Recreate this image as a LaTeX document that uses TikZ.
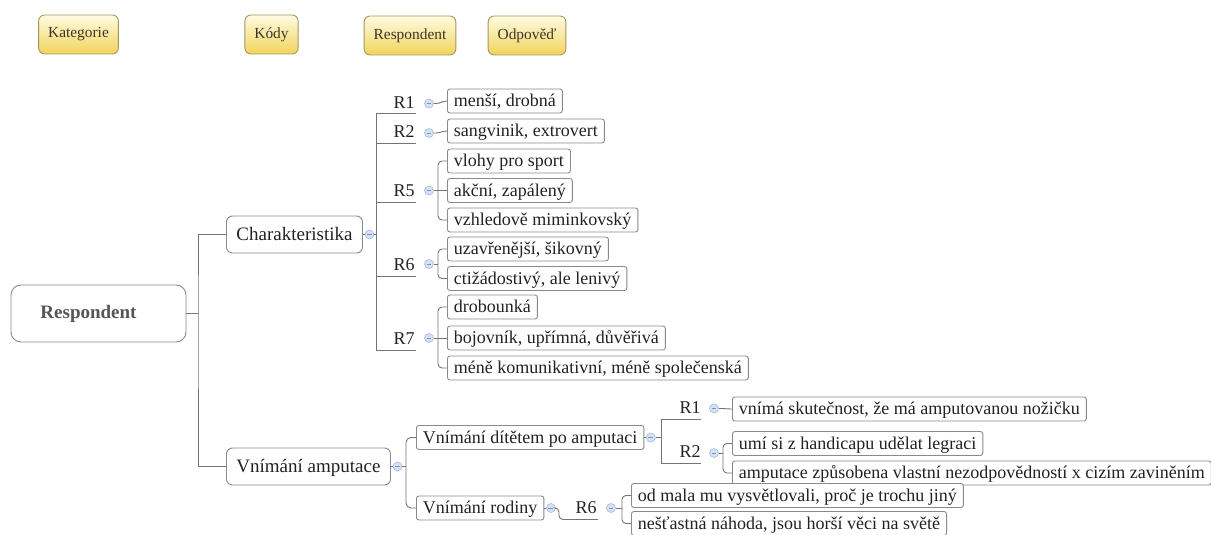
\documentclass[tikz,border=0pt]{standalone}
\usepackage{fontspec}
\setmainfont{Liberation Serif}
\usetikzlibrary{calc}

\definecolor{ink}{HTML}{222222}
\definecolor{edge}{HTML}{8A8A8A}
\definecolor{wire}{HTML}{747474}
\definecolor{legtop}{HTML}{FFFBE2}
\definecolor{legbot}{HTML}{F1D45C}
\definecolor{legline}{HTML}{A4965E}
\definecolor{legink}{HTML}{3A3526}
\definecolor{togfill}{HTML}{D6E2F4}
\definecolor{togline}{HTML}{A3B9DF}
\definecolor{togmark}{HTML}{7892C4}
\definecolor{rootink}{HTML}{555555}

\tikzset{
  link/.style={draw=wire, line width=0.9pt},
  leaf/.style={draw=edge, line width=0.9pt, rounded corners=2.5pt, fill=white,
    anchor=west, text=ink, font=\fontsize{18}{20}\selectfont,
    inner xsep=6.5pt, inner ysep=2.5pt, text height=15pt, text depth=4pt},
  topic/.style={draw=edge, line width=0.9pt, rounded corners=6pt, fill=white,
    anchor=west, text=ink, font=\fontsize{19}{21}\selectfont,
    inner xsep=10pt, inner ysep=7.75pt, text height=17pt, text depth=4.5pt},
  rootbox/.style={draw=edge, line width=0.9pt, rounded corners=10pt, fill=white,
    minimum width=175pt, minimum height=57pt, inner sep=0pt},
  roottext/.style={text=rootink, font=\fontsize{19}{21}\selectfont\bfseries, inner sep=0pt},
  rlabel/.style={text=ink, font=\fontsize{18}{20}\selectfont, inner sep=0pt},
  tog/.style={circle, minimum size=9pt, inner sep=0pt, fill=togfill, draw=togline,
    line width=0.6pt,
    path picture={\draw[togmark, line width=0.8pt]
      ([xshift=-2.4pt]path picture bounding box.center) --
      ([xshift=2.4pt]path picture bounding box.center);}},
  legend/.style={draw=legline, line width=0.9pt, rounded corners=6pt,
    top color=legtop, bottom color=legbot, text=legink,
    font=\fontsize{15.4}{17}\selectfont, minimum height=39pt, inner xsep=9.5pt},
}

\begin{document}
\begin{tikzpicture}[x=1pt, y=-1pt]
\useasboundingbox (0,0) rectangle (1211,535);

% legend row
\node[legend] (lgKat)  at (78.5,34.5)  {Kategorie};
\node[legend] (lgKod)  at (271.5,34.5) {Kódy};
\node[legend] (lgResp) at (410,35.5)   {Respondent};
\node[legend] (lgOdp)  at (527,35.5)   {Odpověď};

% central topic
\node[rootbox]  (root)    at (98.5,313.5) {};
\node[roottext] (roottxt) at (88.5,313.5) {Respondent};

% main topics
\node[topic] (char) at (226,234.5) {Charakteristika};
\node[topic] (vamp) at (226,466.5) {Vnímání amputace};
\coordinate (j0) at (198,313.5);
\draw[link] (root.east) -- (j0);
\draw[link] (char.west) -| (j0) |- (vamp.west);

% ---- Charakteristika branch ----
\node[tog] (tgChar) at ($(char.east)+(6.5,0)$) {};
\draw[link] (char.east) -- (tgChar.west);
\coordinate (vC) at (376,234.5);
\draw[link] (tgChar.east) -- (vC);

\coordinate (u1) at (416,113);
\coordinate (u2) at (416,143);
\coordinate (u5) at (416,202.5);
\coordinate (u6) at (416,276);
\coordinate (u7) at (416,350);
\draw[link] (u1) -- (u1 -| vC) |- (u7);
\draw[link] (u2 -| vC) -- (u2);
\draw[link] (u5 -| vC) -- (u5);
\draw[link] (u6 -| vC) -- (u6);

\node[rlabel] (lbA1) at (404,102.5) {R1};
\node[rlabel] (lbA2) at (404,131.5) {R2};
\node[rlabel] (lbA5) at (404,191)   {R5};
\node[rlabel] (lbA6) at (404,264.5) {R6};
\node[rlabel] (lbA7) at (404,338.5) {R7};

\node[tog] (tgA1) at (429,103.5) {};
\node[tog] (tgA2) at (429,133)   {};
\node[tog] (tgA5) at (429,190.5) {};
\node[tog] (tgA6) at (429,264)   {};
\node[tog] (tgA7) at (429,338)   {};

\node[leaf] (lfA1)  at (447,101)   {menší, drobná};
\node[leaf] (lfA2)  at (447,131)   {sangvinik, extrovert};
\node[leaf] (lfA5a) at (447,161)   {vlohy pro sport};
\node[leaf] (lfA5b) at (447,190.5) {akční, zapálený};
\node[leaf] (lfA5c) at (447,220)   {vzhledově miminkovský};
\node[leaf] (lfA6a) at (447,249)   {uzavřenější, šikovný};
\node[leaf] (lfA6b) at (447,278.5) {ctižádostivý, ale lenivý};
\node[leaf] (lfA7a) at (447,307)   {drobounká};
\node[leaf] (lfA7b) at (447,338)   {bojovník, upřímná, důvěřivá};
\node[leaf] (lfA7c) at (447,368)   {méně komunikativní, méně společenská};

\draw[link] (tgA1.east) -- ++(2,0) to[out=0, in=180] (lfA1.west);
\draw[link] (tgA2.east) -- ++(2,0) to[out=0, in=180] (lfA2.west);
\draw[link, rounded corners=4pt] (lfA5a.west) -| (438,190.5) |- (lfA5c.west);
\draw[link] (tgA5.east) -- (lfA5b.west);
\draw[link, rounded corners=4pt] (lfA6a.west) -| (438,264) |- (lfA6b.west);
\draw[link] (tgA6.east) -- (438,264);
\draw[link, rounded corners=4pt] (lfA7a.west) -| (438,338) |- (lfA7c.west);
\draw[link] (tgA7.east) -- (lfA7b.west);

% ---- Vnímání amputace branch ----
\node[tog] (tgVamp) at ($(vamp.east)+(6.5,0)$) {};
\draw[link] (vamp.east) -- (tgVamp.west);
\coordinate (vV) at (406,466.5);
\draw[link] (tgVamp.east) -- (vV);

\node[leaf] (vdit) at (416,437.5) {Vnímání dítětem po amputaci};
\node[leaf] (vrod) at (416,508)   {Vnímání rodiny};
\draw[link, rounded corners=5pt] (vdit.west) -| (vV) |- (vrod.west);

% child's own perception
\node[tog] (tgVdit) at ($(vdit.east)+(6.5,0)$) {};
\draw[link] (vdit.east) -- (tgVdit.west);
\coordinate (vD) at (661,437.5);
\draw[link] (tgVdit.east) -- (vD);
\coordinate (w1) at (701,419.5);
\coordinate (w2) at (701,463.5);
\draw[link] (w1) -- (w1 -| vD) |- (w2);

\node[rlabel] (lbB1) at (690,408) {R1};
\node[rlabel] (lbB2) at (690,452) {R2};
\node[tog] (tgB1) at (714,408.5) {};
\node[tog] (tgB2) at (714,453)   {};

\node[leaf] (lfB1)  at (732,409)   {vnímá skutečnost, že má amputovanou nožičku};
\node[leaf] (lfB2a) at (732,443.5) {umí si z handicapu udělat legraci};
\node[leaf] (lfB2b) at (732,473)   {amputace způsobena vlastní nezodpovědností x cizím zaviněním};

\draw[link] (tgB1.east) -- ++(2,0) to[out=0, in=180] (lfB1.west);
\draw[link, rounded corners=4pt] (lfB2a.west) -| (723,453) |- (lfB2b.west);
\draw[link] (tgB2.east) -- (723,453);

% family's perception
\node[tog] (tgVrod) at ($(vrod.east)+(6.5,0)$) {};
\draw[link] (vrod.east) -- (tgVrod.west);
\coordinate (w6) at (598,519.5);
\draw[link, rounded corners=4pt] (tgVrod.east) -| (559,519.5) -- (w6);

\node[rlabel] (lbC6) at (586,508) {R6};
\node[tog] (tgC6) at (611,508) {};

\node[leaf] (lfC1) at (631,495.5) {od mala mu vysvětlovali, proč je trochu jiný};
\node[leaf] (lfC2) at (631,523.5) {nešťastná náhoda, jsou horší věci na světě};

\draw[link, rounded corners=4pt] (lfC1.west) -| (622,508) |- (lfC2.west);
\draw[link] (tgC6.east) -- (622,508);
\end{tikzpicture}
\end{document}
